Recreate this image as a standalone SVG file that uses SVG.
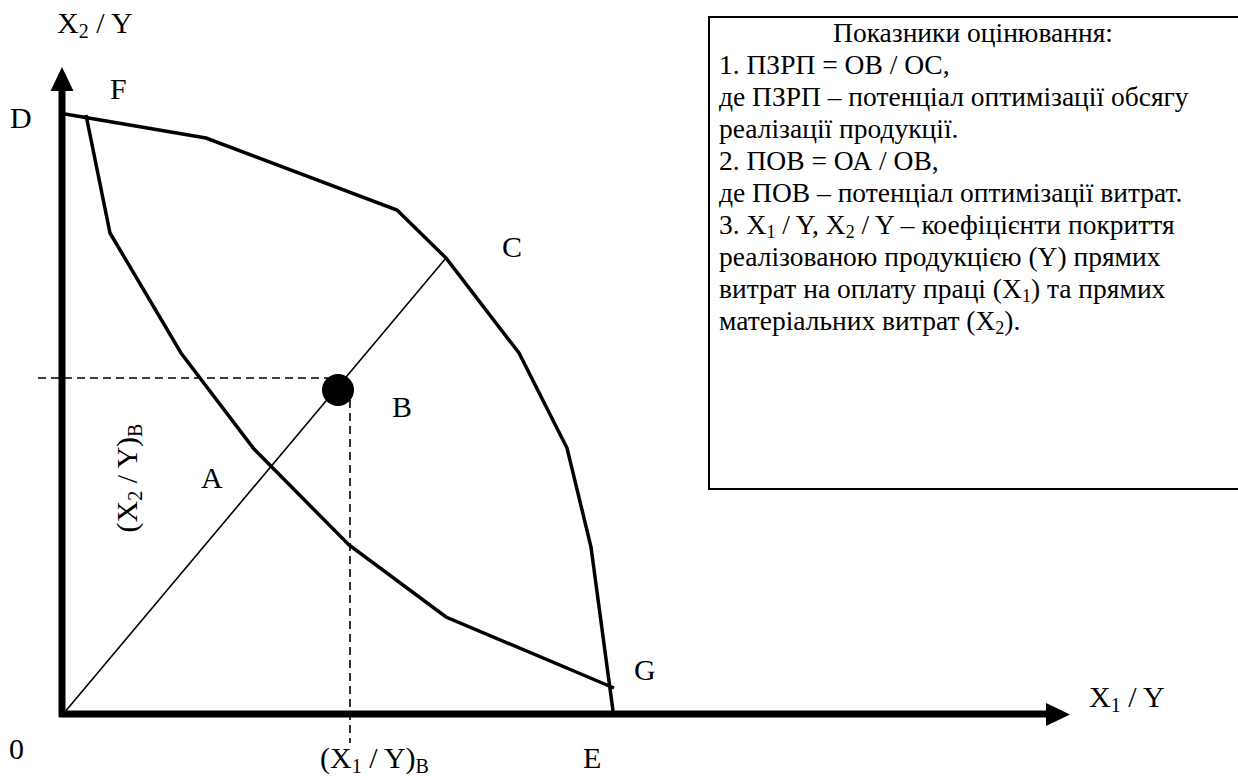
<svg xmlns="http://www.w3.org/2000/svg" width="1238" height="783" viewBox="0 0 1238 783">
<style>
text{font-family:"Liberation Serif","Times New Roman",serif;font-size:30px;fill:#000}
.box{font-size:27.5px}
.sub{font-size:20px}
.box .sub{font-size:18px}
.curve{fill:none;stroke:#000;stroke-width:3.5;stroke-linejoin:miter}
.thin{fill:none;stroke:#000;stroke-width:1.6}
.dash{fill:none;stroke:#000;stroke-width:1.6;stroke-dasharray:8 5}
.axis{fill:none;stroke:#000;stroke-width:7}
</style>
<rect width="1238" height="783" fill="#fff"/>
<g id="legend">
<rect x="709" y="17" width="560" height="472" fill="#fff" stroke="#000" stroke-width="2"/>
<g class="box">
<text class="box" x="973" y="42" text-anchor="middle">Показники оцінювання:</text>
<text class="box" x="719" y="74">1. ПЗРП = ОВ / ОС,</text>
<text class="box" x="719" y="106">де ПЗРП – потенціал оптимізації обсягу</text>
<text class="box" x="719" y="138">реалізації продукції.</text>
<text class="box" x="719" y="170">2. ПОВ = ОА / ОВ,</text>
<text class="box" x="719" y="202">де ПОВ – потенціал оптимізації витрат.</text>
<text class="box" x="719" y="234">3. X<tspan class="sub" dy="4">1</tspan><tspan dy="-4"> / Y, X</tspan><tspan class="sub" dy="4">2</tspan><tspan dy="-4"> / Y – коефіцієнти покриття</tspan></text>
<text class="box" x="719" y="266">реалізованою продукцією (Y) прямих</text>
<text class="box" x="719" y="298">витрат на оплату праці (X<tspan class="sub" dy="4">1</tspan><tspan dy="-4">) та прямих</tspan></text>
<text class="box" x="719" y="330">матеріальних витрат (X<tspan class="sub" dy="4">2</tspan><tspan dy="-4">).</tspan></text>
</g>
</g>
<g id="axes">
<line class="axis" x1="62" y1="717" x2="62" y2="88"/>
<polygon points="62,67 50.5,91 73.5,91"/>
<line class="axis" x1="59" y1="714" x2="1049" y2="714"/>
<polygon points="1070,714.5 1046,703 1046,726"/>
</g>
<g id="connectors">
<polyline id="frontier-DCE" class="curve" points="65,114 206,138 397,210 446,258 519,353 567,448 591,547 613,711"/>
<polyline id="curve-FG" class="curve" points="86,115 110,233 181,353 254,449 349,545 446,617 614,688"/>
<line id="ray-OC" class="thin" x1="64" y1="713" x2="446" y2="258"/>
<line class="dash" x1="38" y1="378" x2="334" y2="378"/>
<line class="dash" x1="350" y1="400" x2="350" y2="743"/>
</g>
<g id="point-B">
<circle cx="338" cy="390" r="16" fill="#000"/>
</g>
<g id="labels">
<text x="57" y="33">X<tspan class="sub" dy="5">2</tspan><tspan dy="-5"> / Y</tspan></text>
<text x="10" y="128">D</text>
<text x="110" y="99">F</text>
<text x="502" y="257">C</text>
<text x="392" y="417">B</text>
<text x="201" y="488">A</text>
<text x="634" y="680">G</text>
<text x="9" y="759">0</text>
<text x="1089" y="707">X<tspan class="sub" dy="5">1</tspan><tspan dy="-5"> / Y</tspan></text>
<text x="320" y="768">(X<tspan class="sub" dy="5">1</tspan><tspan dy="-5"> / Y)</tspan><tspan class="sub" dy="5">B</tspan></text>
<text x="583" y="768">E</text>
<text transform="translate(137,478) rotate(-90)" text-anchor="middle">(X<tspan class="sub" dy="5">2</tspan><tspan dy="-5"> / Y)</tspan><tspan class="sub" dy="5">B</tspan></text>
</g>
</svg>
